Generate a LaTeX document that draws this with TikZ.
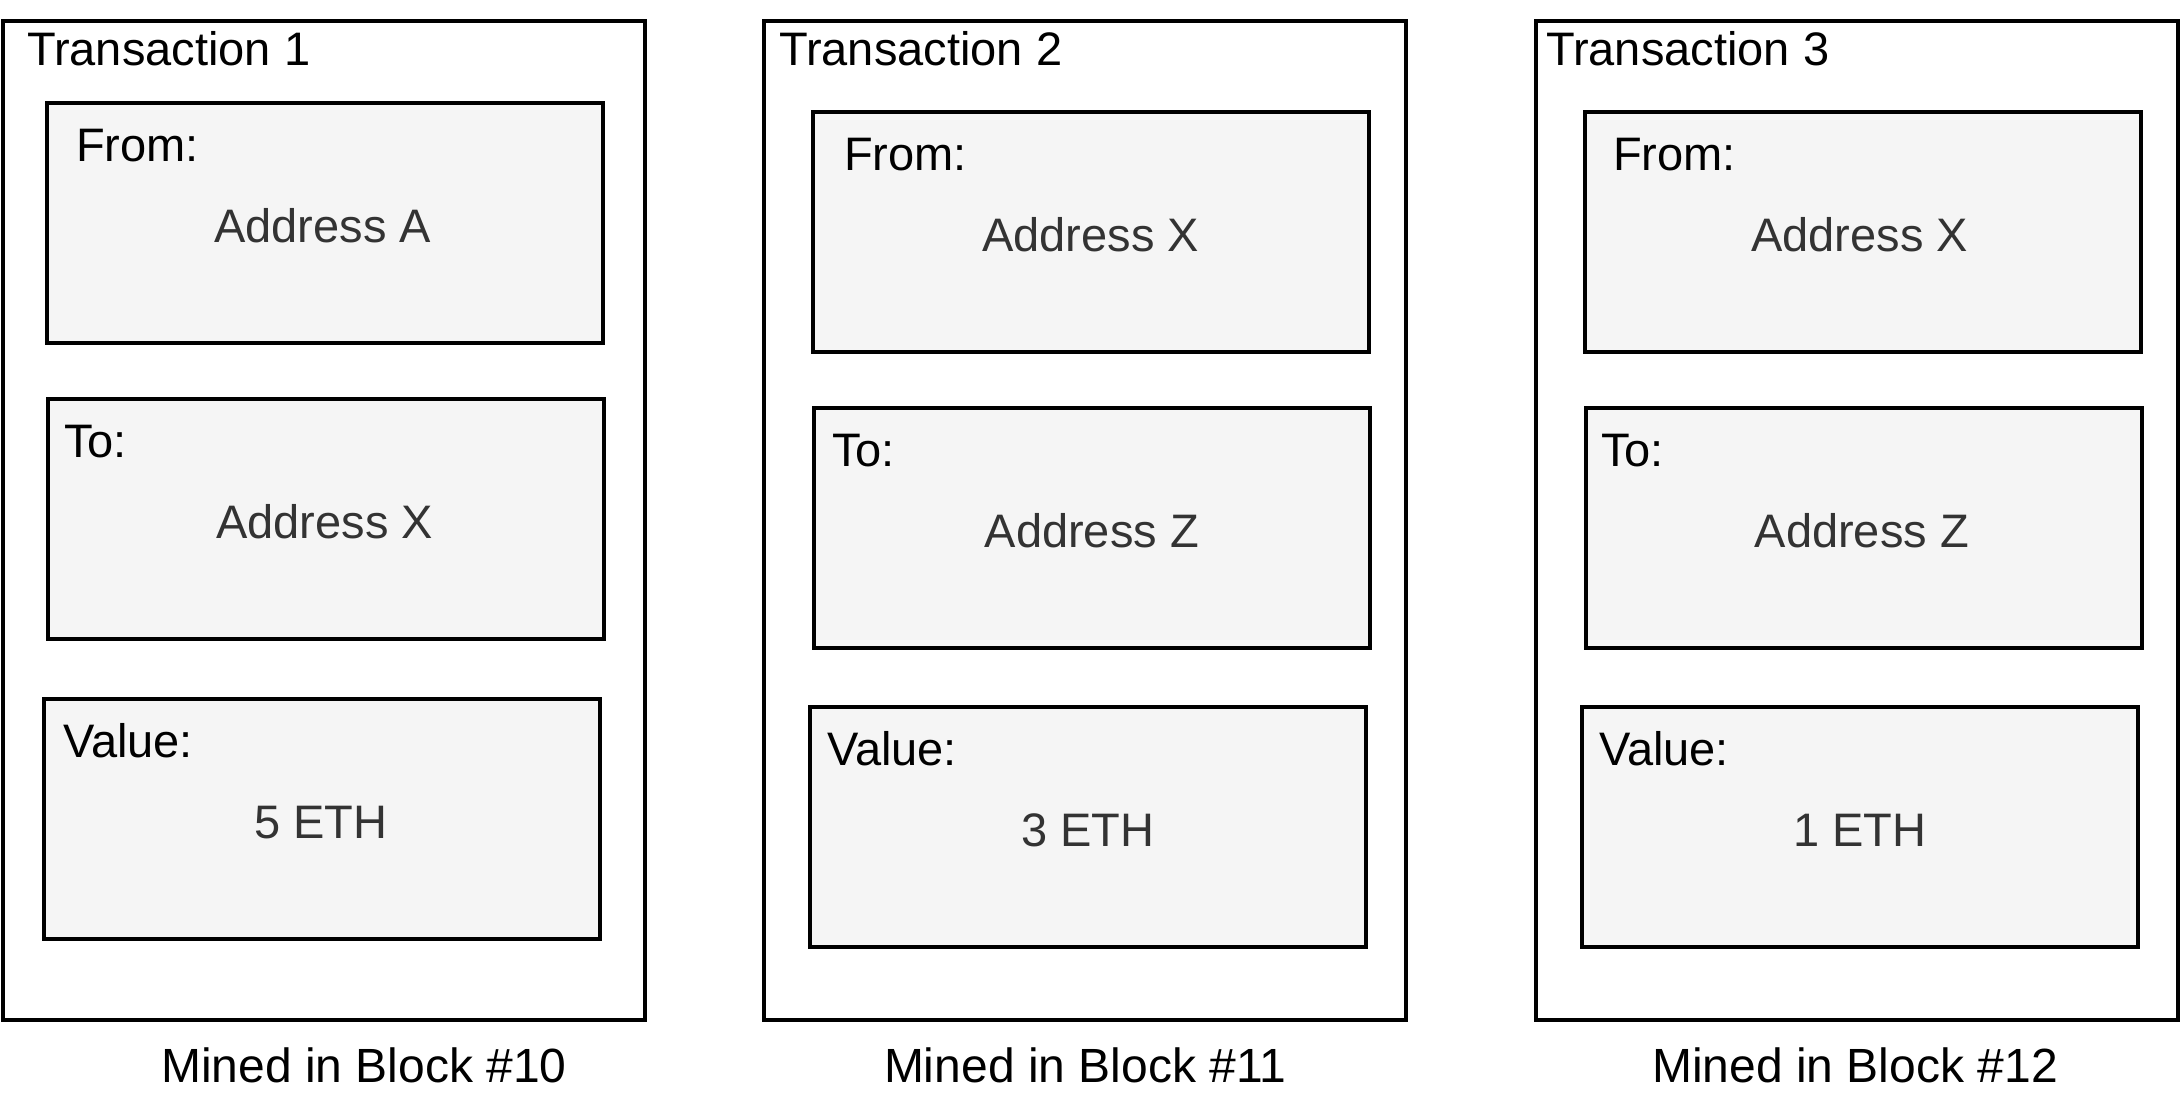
\documentclass[tikz,border=0pt]{standalone}
\usepackage{fontspec}
\setmainfont{Liberation Sans}
\usetikzlibrary{positioning}
\definecolor{fieldfill}{HTML}{F5F5F5}
\definecolor{valuegray}{HTML}{333333}
\newcommand{\diafont}{\fontsize{47}{56}\selectfont}
\newcommand{\minedfont}{\fontsize{48}{57}\selectfont}
\tikzset{
  txbox/.style = {draw, line width=3.5pt, minimum width=642pt, minimum height=999pt, anchor=north west, inner sep=0pt},
  fieldbox/.style = {draw, line width=3.5pt, fill=fieldfill, minimum width=556pt, minimum height=240pt, anchor=north west, inner sep=0pt},
  txtitle/.style = {anchor=base west, inner sep=0pt, font=\diafont},
  fieldlabel/.style = {anchor=base west, inner sep=0pt, font=\diafont},
  fieldvalue/.style = {anchor=base, inner sep=0pt, font=\diafont, text=valuegray},
  minedlabel/.style = {anchor=base, inner sep=0pt, font=\minedfont}
}

\begin{document}
\begin{tikzpicture}[x=1pt, y=-1pt]
    \useasboundingbox (0,0) rectangle (2180,1100);

    \node [txbox] (tx1) at (1,19) {};
    \node [txtitle] (title1) at (27,65) {Transaction 1};
    \node [fieldbox] (from1) at (45,101) {};
    \node [fieldbox] (to1) at (46,397) {};
    \node [fieldbox] (val1) at (42,697) {};
    \node [fieldlabel] (fromlbl1) at ([xshift=31pt, yshift=-60pt] from1.north west) {From:};
    \node [fieldlabel] (tolbl1) at ([xshift=18pt, yshift=-60pt] to1.north west) {To:};
    \node [fieldlabel] (vallbl1) at ([xshift=21pt, yshift=-60pt] val1.north west) {Value:};
    \node [fieldvalue] (fromtxt1) at ([xshift=-2pt, yshift=-20pt] from1.center) {Address A};
    \node [fieldvalue] (totxt1) at ([xshift=-1pt, yshift=-20pt] to1.center) {Address X};
    \node [fieldvalue] (valtxt1) at ([xshift=-1pt, yshift=-20pt] val1.center) {5 ETH};
    \node [minedlabel] (mined1) at (364,1082) {Mined in Block \#10};

    \node [txbox] (tx2) at (762,19) {};
    \node [txtitle] (title2) at (779,65) {Transaction 2};
    \node [fieldbox] (from2) at (811,110) {};
    \node [fieldbox] (to2) at (812,406) {};
    \node [fieldbox] (val2) at (808,705) {};
    \node [fieldlabel] (fromlbl2) at ([xshift=33pt, yshift=-60pt] from2.north west) {From:};
    \node [fieldlabel] (tolbl2) at ([xshift=20pt, yshift=-60pt] to2.north west) {To:};
    \node [fieldlabel] (vallbl2) at ([xshift=19pt, yshift=-60pt] val2.north west) {Value:};
    \node [fieldvalue] (fromtxt2) at ([yshift=-20pt] from2.center) {Address X};
    \node [fieldvalue] (totxt2) at ([yshift=-20pt] to2.center) {Address Z};
    \node [fieldvalue] (valtxt2) at ([yshift=-20pt] val2.center) {3 ETH};
    \node [minedlabel] (mined2) at (1085,1082) {Mined in Block \#11};

    \node [txbox] (tx3) at (1534,19) {};
    \node [txtitle] (title3) at (1546,65) {Transaction 3};
    \node [fieldbox] (from3) at (1583,110) {};
    \node [fieldbox] (to3) at (1584,406) {};
    \node [fieldbox] (val3) at (1580,705) {};
    \node [fieldlabel] (fromlbl3) at ([xshift=30pt, yshift=-60pt] from3.north west) {From:};
    \node [fieldlabel] (tolbl3) at ([xshift=17pt, yshift=-60pt] to3.north west) {To:};
    \node [fieldlabel] (vallbl3) at ([xshift=19pt, yshift=-60pt] val3.north west) {Value:};
    \node [fieldvalue] (fromtxt3) at ([xshift=-3pt, yshift=-20pt] from3.center) {Address X};
    \node [fieldvalue] (totxt3) at ([xshift=-2pt, yshift=-20pt] to3.center) {Address Z};
    \node [fieldvalue] (valtxt3) at ([yshift=-20pt] val3.center) {1 ETH};
    \node [minedlabel] (mined3) at (1855,1082) {Mined in Block \#12};
\end{tikzpicture}
\end{document}
